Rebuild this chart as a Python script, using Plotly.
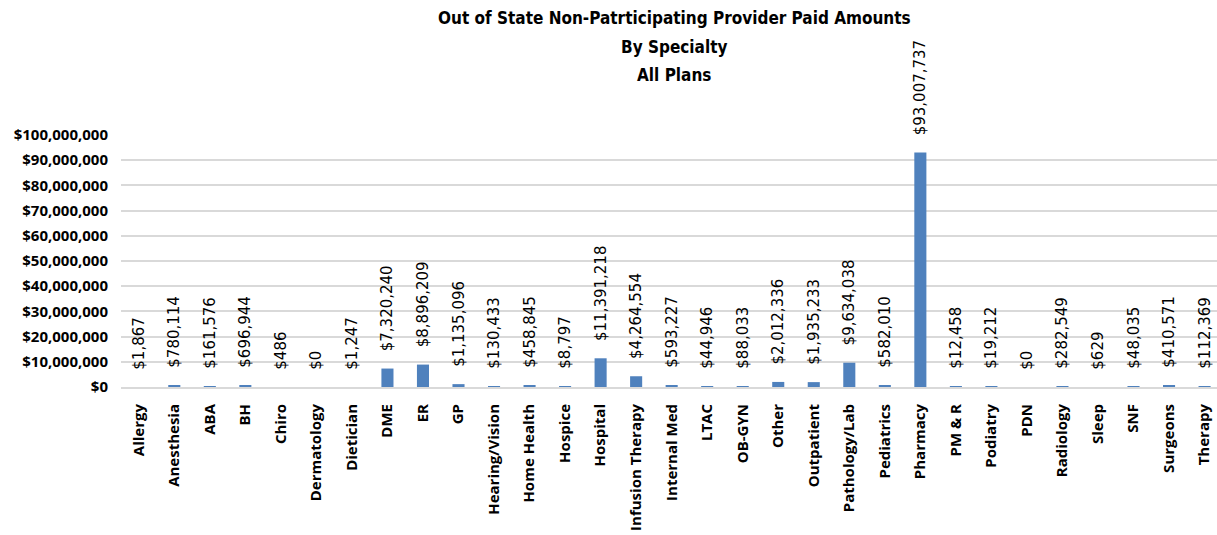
import plotly.graph_objects as go

# Paid amounts by provider specialty (USD)
specialties = [
    "Allergy", "Anesthesia", "ABA", "BH", "Chiro", "Dermatology", "Dietician",
    "DME", "ER", "GP", "Hearing/Vision", "Home Health", "Hospice", "Hospital",
    "Infusion Therapy", "Internal Med", "LTAC", "OB-GYN", "Other", "Outpatient",
    "Pathology/Lab", "Pediatrics", "Pharmacy", "PM & R", "Podiatry", "PDN",
    "Radiology", "Sleep", "SNF", "Surgeons", "Therapy",
]
paid_amounts = [
    1867, 780114, 161576, 696944, 486, 0, 1247,
    7320240, 8896209, 1135096, 130433, 458845, 8797, 11391218,
    4264554, 593227, 44946, 88033, 2012336, 1935233,
    9634038, 582010, 93007737, 12458, 19212, 0,
    282549, 629, 48035, 410571, 112369,
]
y_ticks = list(range(0, 100_000_001, 10_000_000))
y_tick_labels = [f"${v:,}" for v in y_ticks]
title_lines = [
    "Out of State Non-Patrticipating Provider Paid Amounts",
    "By Specialty",
    "All Plans",
]

W, H = 1217, 535
LEFT, RIGHT_EDGE, TOP, BOTTOM = 121, 1217, 135, 387
plot_h = BOTTOM - TOP
plot_w = RIGHT_EDGE - LEFT

fig = go.Figure(
    go.Bar(
        x=specialties,
        y=paid_amounts,
        marker=dict(color="#4F81BD", line=dict(width=0)),
        texttemplate="   $%{y:,.0f}",
        textposition="outside",
        textangle=-90,
        constraintext="none",
        cliponaxis=False,
        textfont=dict(family="DejaVu Sans, sans-serif", size=15, color="#000000"),
        hoverinfo="x+y",
    )
)

# Three-line heading above the plot
title_y_px = [18, 47, 75]
for line, ypx in zip(title_lines, title_y_px):
    fig.add_annotation(
        text=f"<b>{line}</b>",
        xref="paper", yref="paper",
        x=(674 - LEFT) / plot_w,
        y=(BOTTOM - ypx) / plot_h,
        xanchor="center", yanchor="middle",
        showarrow=False,
        font=dict(family="DejaVu Sans Condensed, Open Sans, sans-serif", size=17, color="#000000"),
    )

fig.update_layout(
    width=W, height=H,
    margin=dict(l=LEFT, r=W - RIGHT_EDGE, t=TOP, b=H - BOTTOM, pad=0),
    paper_bgcolor="#ffffff",
    plot_bgcolor="#ffffff",
    showlegend=False,
    bargap=0.66,
    font=dict(family="Open Sans, DejaVu Sans, sans-serif", color="#000000"),
)

fig.update_xaxes(
    range=[-0.5, 30.35],
    tickangle=-90,
    tickfont=dict(family="Open Sans, DejaVu Sans, sans-serif", size=15, color="#000000", weight="bold"),
    showgrid=False,
    showline=True, linecolor="#d9d9d9", linewidth=2,
    ticks="",
    ticklabelstandoff=9,
    fixedrange=True,
)

fig.update_yaxes(
    range=[0, 100_000_000],
    tickvals=y_ticks,
    ticktext=y_tick_labels,
    tickfont=dict(family="Open Sans, DejaVu Sans, sans-serif", size=15, color="#000000", weight="bold"),
    showgrid=True, gridcolor="#d9d9d9", gridwidth=2,
    zeroline=False,
    showline=False,
    ticks="",
    ticklabelstandoff=12,
    fixedrange=True,
)

fig.write_html("out.html")
